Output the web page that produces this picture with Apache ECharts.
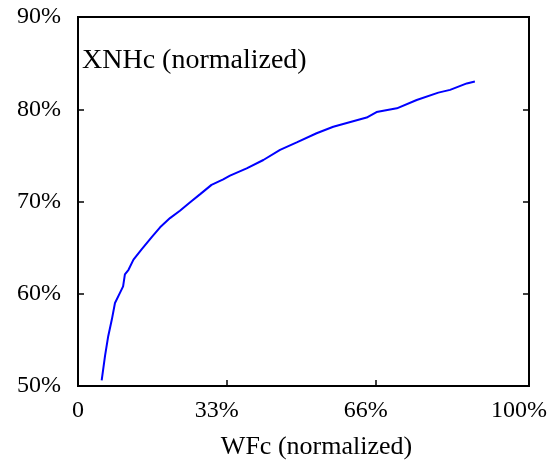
<!DOCTYPE html>
<html>
<head>
<meta charset="utf-8">
<script src="https://cdn.jsdelivr.net/npm/echarts@6/dist/echarts.min.js"></script>
<style>html,body{margin:0;padding:0;background:#fff}#c{width:554px;height:465px}</style>
</head>
<body>
<div id="c"></div>
<script>
// WFc (normalized, %) vs XNHc (normalized, %)
const wfc = [5.25, 6.0, 6.7, 7.5, 8.2, 9.3, 10.0, 10.4, 11.2, 12.3, 14.1, 16.3, 18.2, 20.4, 22.6, 24.8, 27.1, 29.6, 32.2, 33.7, 37.4, 41.1, 44.8, 48.5, 52.9, 56.6, 64.0, 66.2, 70.7, 75.1, 79.9, 82.5, 86.2, 88.0];
const xnhc = [50.6, 53.3, 55.4, 57.2, 59.0, 60.1, 60.8, 62.1, 62.6, 63.7, 64.8, 66.1, 67.2, 68.2, 69.0, 69.9, 70.8, 71.8, 72.4, 72.8, 73.6, 74.5, 75.6, 76.4, 77.4, 78.1, 79.1, 79.7, 80.1, 81.0, 81.8, 82.1, 82.8, 83.0];
const xTickValues = [0, 33, 66, 100];
const xTickLabels = ['0', '33%', '66%', '100%'];
const yTickValues = [50, 60, 70, 80, 90];
const xTitle = 'WFc (normalized)';
const yTitle = 'XNHc (normalized)';

const FONT = '"Liberation Serif", "Times New Roman", serif';
const chart = echarts.init(document.getElementById('c'));
const yBase = {
  type: 'value', min: 50, max: 90, interval: 10,
  splitLine: { show: false },
  axisLine: { show: true, lineStyle: { color: '#000', width: 2 } },
  axisTick: { show: true, inside: true, length: 6, lineStyle: { color: '#000', width: 1.5 } }
};
chart.setOption({
  animation: false,
  backgroundColor: '#fff',
  title: {
    text: yTitle, left: 82, top: 47, padding: 0,
    textStyle: { fontFamily: FONT, fontSize: 28, fontWeight: 'normal', color: '#000' }
  },
  grid: { left: 78, right: 25, top: 17, bottom: 78, show: true, borderColor: '#000', borderWidth: 2, backgroundColor: 'transparent' },
  xAxis: {
    type: 'value', min: 0, max: 100,
    name: xTitle, nameLocation: 'middle', nameGap: 48,
    nameTextStyle: { fontFamily: FONT, fontSize: 26, color: '#000', padding: [0, 0, 0, 26] },
    splitLine: { show: false },
    axisLine: { show: true, lineStyle: { color: '#000', width: 2 } },
    axisTick: { show: true, inside: true, length: 6, customValues: xTickValues, lineStyle: { color: '#000', width: 1.5 } },
    axisLabel: {
      customValues: xTickValues, margin: 13,
      fontFamily: FONT, fontSize: 24, color: '#000',
      formatter: v => {
        const t = xTickLabels[xTickValues.indexOf(v)];
        return v === 0 ? '{z|' + t + '}' : '{s|' + t + '}';
      },
      rich: {
        z: { fontFamily: FONT, fontSize: 24, color: '#000' },
        s: { fontFamily: FONT, fontSize: 24, color: '#000', padding: [0, 20, 0, 0] }
      }
    }
  },
  yAxis: [
    Object.assign({}, yBase, {
      position: 'left',
      axisLabel: { margin: 17, fontFamily: FONT, fontSize: 24, color: '#000', formatter: v => v + '%' }
    }),
    Object.assign({}, yBase, { position: 'right', axisLabel: { show: false } })
  ],
  series: [{
    type: 'line', yAxisIndex: 0,
    data: wfc.map((x, i) => [x, xnhc[i]]),
    showSymbol: false, symbol: 'none',
    lineStyle: { color: '#0000ff', width: 2 }
  }]
});
</script>
</body>
</html>
